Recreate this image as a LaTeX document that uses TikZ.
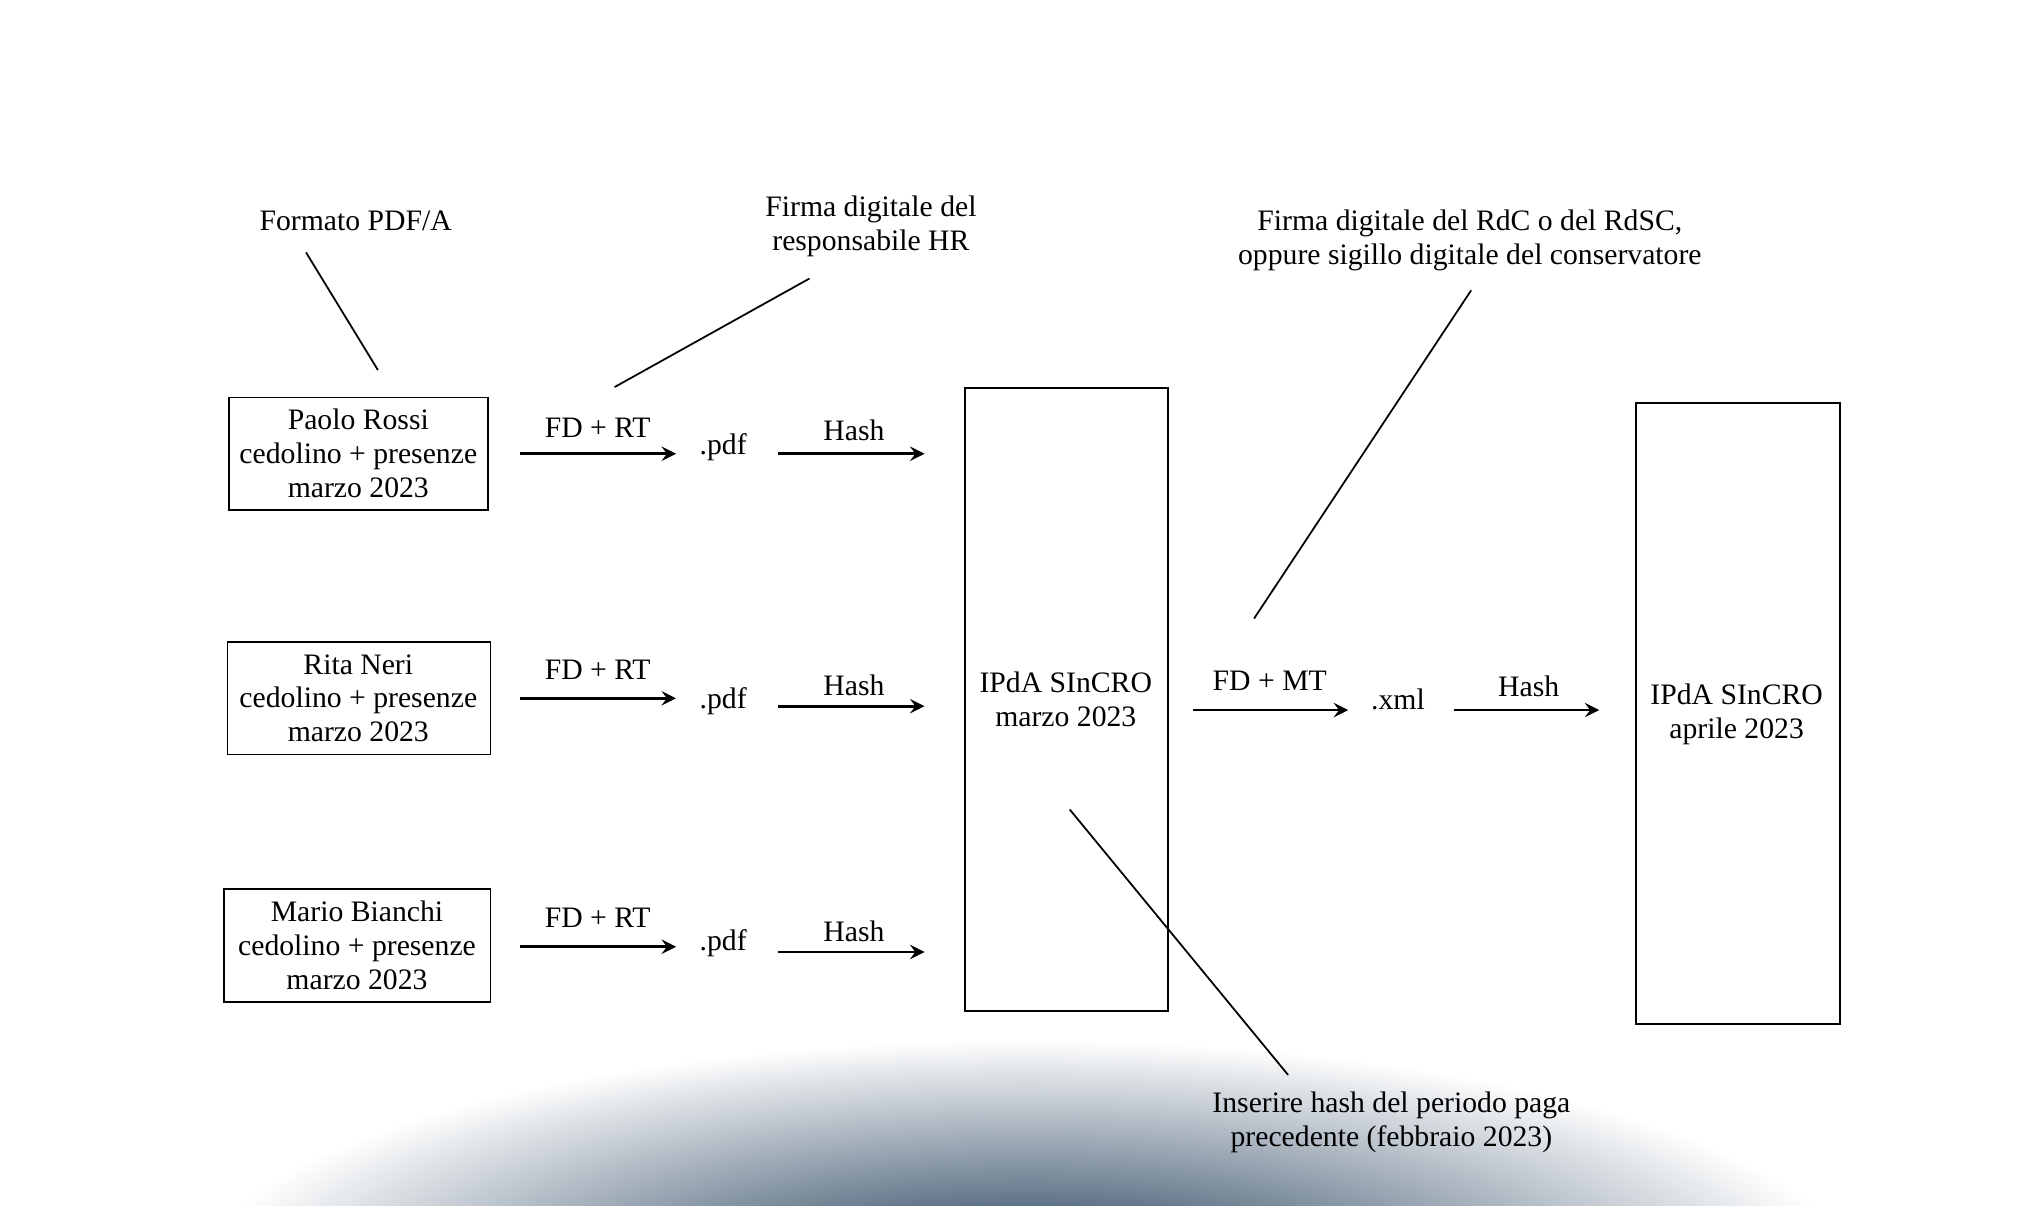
\documentclass[tikz,border=0pt]{standalone}
\usepackage{fontspec}
\setmainfont{Liberation Serif}
\begin{document}
\begin{tikzpicture}[x=0.013cm,y=-0.013cm,
  txt/.style={align=center,font=\fontsize{8.4}{9.6}\selectfont,inner sep=0pt},
  arr/.style={->,line width=0.8pt,>=stealth},
  ln/.style={line width=0.5pt}]
\useasboundingbox (0,0) rectangle (1560,922);
\begin{scope}
\clip (0,0) rectangle (1560,922);
\shade[inner color={rgb,255:red,15;green,45;blue,75},outer color=white] (785,985) ellipse (640 and 190);
\end{scope}
% boxes
\draw[ln] (175,304) rectangle (373,390);
\draw[ln] (174,491) rectangle (375,577);
\draw[ln] (171,680) rectangle (375,766);
\draw[ln] (738,297) rectangle (893,773);
\draw[ln] (1251,308) rectangle (1407,783);
\node[txt] (b1) at (274,347) {Paolo Rossi\\cedolino + presenze\\marzo 2023};
\node[txt] (b2) at (274,534) {Rita Neri\\cedolino + presenze\\marzo 2023};
\node[txt] (b3) at (273,723) {Mario Bianchi\\cedolino + presenze\\marzo 2023};
\node[txt] (m) at (815,535) {IPdA SInCRO\\marzo 2023};
\node[txt] (a) at (1328,546) {IPdA SInCRO\\aprile 2023};
% rows
\foreach \i/\ya/\yl/\yp/\yh/\yhl in {1/347/327/342/347/329, 2/534/512/536/540/524, 3/724/702/721/728/712}{
  \coordinate (s\i) at (398,\ya); \coordinate (e\i) at (517,\ya);
  \draw[arr] (s\i) -- (e\i);
  \node[txt] (l\i) at (457,\yl) {FD + RT};
  \node[txt] (pdf\i) at (553,\yp) {.pdf};
  \coordinate (hs\i) at (595,\yh); \coordinate (he\i) at (707,\yh);
  \draw[arr] (hs\i) -- (he\i);
  \node[txt] (hl\i) at (653,\yhl) {Hash};
}
\coordinate (ms) at (912,543); \coordinate (me) at (1031,543);
\draw[arr] (ms) -- (me);
\node[txt] (mt) at (971,521) {FD + MT};
\node[txt] (xml) at (1069,535) {.xml};
\coordinate (xs) at (1112,543); \coordinate (xe) at (1223,543);
\draw[arr] (xs) -- (xe);
\node[txt] (xh) at (1169,525) {Hash};
% annotations
\node[txt] (n1) at (272,169) {Formato PDF/A};
\coordinate (n1a) at (234,193); \coordinate (n1b) at (289,283);
\draw[ln] (n1a) -- (n1b);
\node[txt] (n2) at (666,173) {Firma digitale del\\responsabile HR};
\coordinate (n2a) at (619,213); \coordinate (n2b) at (470,296);
\draw[ln] (n2a) -- (n2b);
\node[txt] (n3) at (1124,184) {Firma digitale del RdC o del RdSC,\\oppure sigillo digitale del conservatore};
\coordinate (n3a) at (1125,222); \coordinate (n3b) at (959,473);
\draw[ln] (n3a) -- (n3b);
\node[txt] (n4) at (1064,858) {Inserire hash del periodo paga\\precedente (febbraio 2023)};
\coordinate (n4a) at (818,619); \coordinate (n4b) at (985,822);
\draw[ln] (n4a) -- (n4b);
\end{tikzpicture}
\end{document}
